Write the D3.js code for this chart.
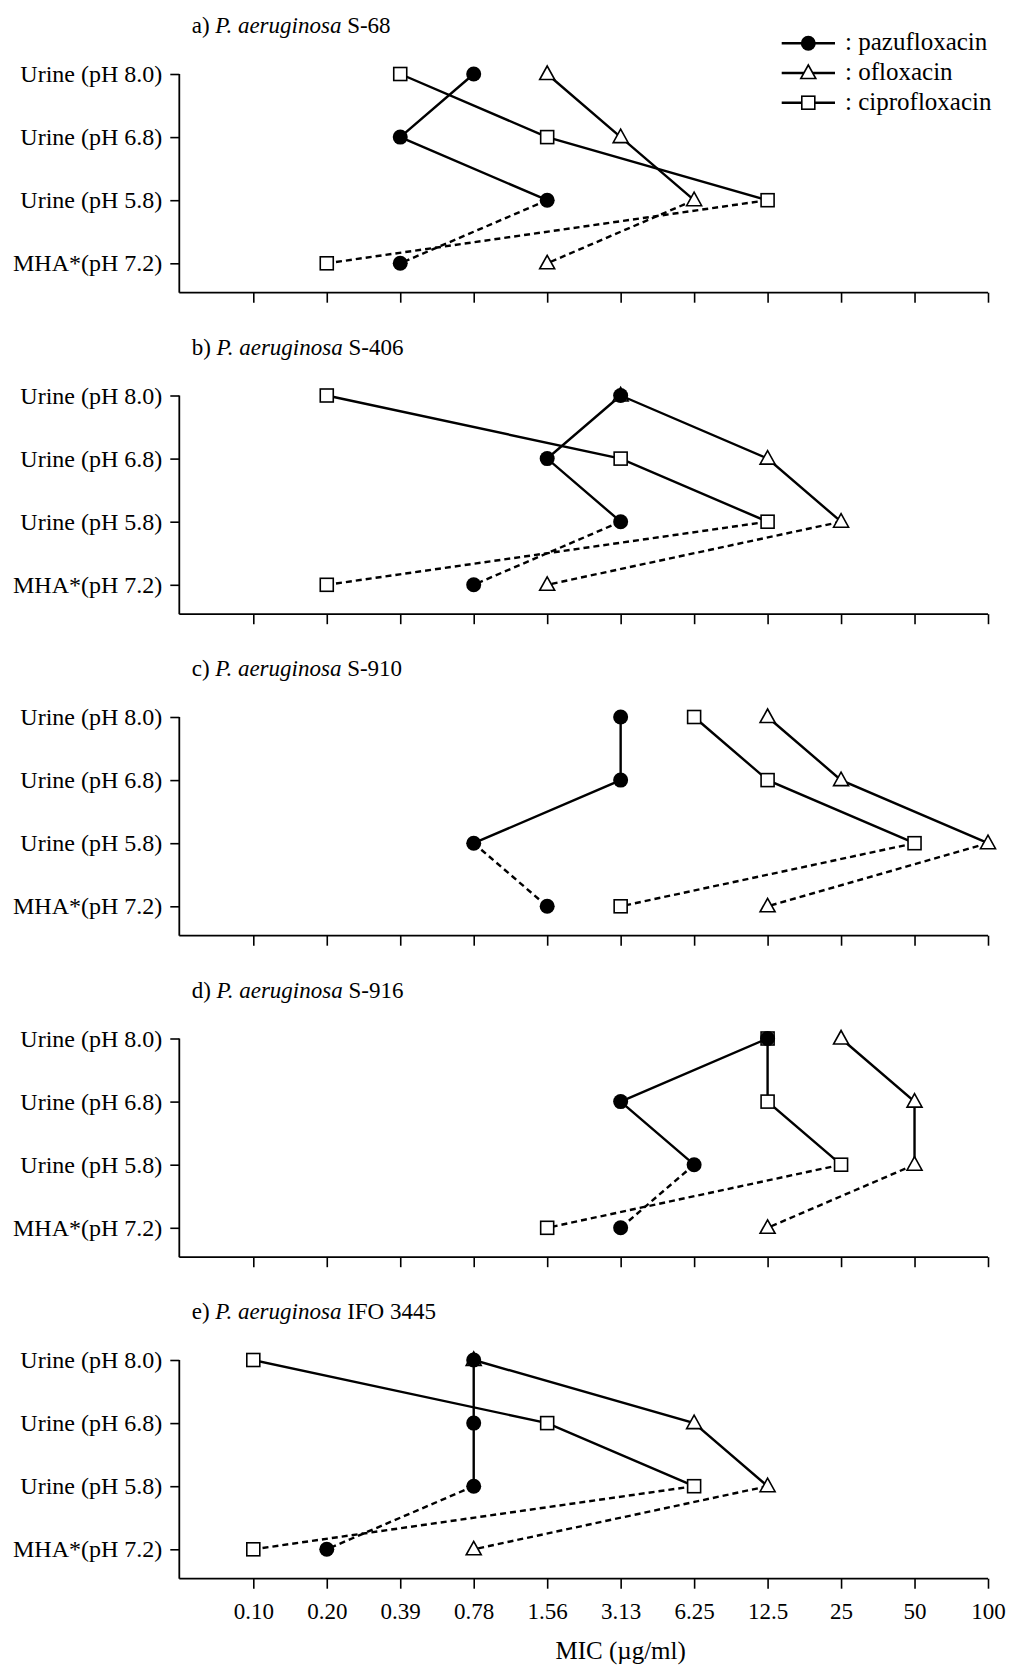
<!DOCTYPE html>
<html>
<head>
<meta charset="utf-8">
<script src="https://cdn.jsdelivr.net/npm/d3@7"></script>
<style>
  body { margin: 0; background: #fff; }
  text { font-family: "Liberation Serif", "Times New Roman", serif; fill: #000; }
</style>
</head>
<body>
<script>
/* ---------------------------------- data ---------------------------------- */
const categories = ["Urine (pH 8.0)", "Urine (pH 6.8)", "Urine (pH 5.8)", "MHA*(pH 7.2)"];
const micTicks = ["0.10", "0.20", "0.39", "0.78", "1.56", "3.13", "6.25", "12.5", "25", "50", "100"];
const panelLetters = ["a)", "b)", "c)", "d)", "e)"];
const strains = ["S-68", "S-406", "S-910", "S-916", "IFO 3445"];
const drugs = ["pazufloxacin", "ofloxacin", "ciprofloxacin"];

// one row per panel, values in order of categories
const pazufloxacin = [
  ["0.78", "0.39", "1.56", "0.39"],
  ["3.13", "1.56", "3.13", "0.78"],
  ["3.13", "3.13", "0.78", "1.56"],
  ["12.5", "3.13", "6.25", "3.13"],
  ["0.78", "0.78", "0.78", "0.20"]
];
const ofloxacin = [
  ["1.56", "3.13", "6.25", "1.56"],
  ["3.13", "12.5", "25", "1.56"],
  ["12.5", "25", "100", "12.5"],
  ["25", "50", "50", "12.5"],
  ["0.78", "6.25", "12.5", "0.78"]
];
const ciprofloxacin = [
  ["0.39", "1.56", "12.5", "0.20"],
  ["0.20", "3.13", "12.5", "0.20"],
  ["6.25", "12.5", "50", "3.13"],
  ["12.5", "12.5", "25", "1.56"],
  ["0.10", "1.56", "6.25", "0.10"]
];

/* ------------------------------ document size ----------------------------- */
const width = 1010, height = 1667;
const panelStep = 321.5;
const axisX = 179.3, axisY = 292.7;

const svg = d3.select("body").append("svg")
    .attr("width", width)
    .attr("height", height);

/* --------------------------------- scales --------------------------------- */
const x = d3.scalePoint().domain(micTicks).range([253.3, 988]);
const y = d3.scalePoint().domain(categories).range([74, 263.3]);

const seriesData = { pazufloxacin: pazufloxacin, ofloxacin: ofloxacin, ciprofloxacin: ciprofloxacin };

/* --------------------------------- markers -------------------------------- */
var drawMarker = function(g, drug, cx, cy) {
    if (drug == "pazufloxacin") {
        g.append("circle").attr("cx", cx).attr("cy", cy).attr("r", 7.5).attr("fill", "#000");
    } else if (drug == "ofloxacin") {
        g.append("path")
            .attr("d", "M" + cx + "," + (cy - 8) + "L" + (cx + 7.5) + "," + (cy + 5.5) + "L" + (cx - 7.5) + "," + (cy + 5.5) + "Z")
            .attr("fill", "#fff").attr("stroke", "#000").attr("stroke-width", 1.6);
    } else {
        g.append("rect").attr("x", cx - 6.5).attr("y", cy - 6.5).attr("width", 13).attr("height", 13)
            .attr("fill", "#fff").attr("stroke", "#000").attr("stroke-width", 1.6);
    }
}

const line = d3.line().x(d => x(d.v)).y(d => y(d.c));

/* --------------------------------- panels --------------------------------- */
for (var i = 0; i < strains.length; i++) {
    var g = svg.append("g").attr("transform", "translate(0," + (i * panelStep) + ")");

    // title
    var title = g.append("text").attr("x", 191.7).attr("y", 33).style("font-size", "23px");
    title.append("tspan").text(panelLetters[i] + " ");
    title.append("tspan").style("font-style", "italic").text("P. aeruginosa");
    title.append("tspan").text(" " + strains[i]);

    // y axis
    var yAxis = g.append("g").attr("transform", "translate(" + axisX + ",0)")
        .call(d3.axisLeft(y).tickSize(9).tickPadding(8));
    yAxis.select(".domain").remove();
    yAxis.selectAll("line").attr("stroke-width", 1.6);
    yAxis.selectAll("text").style("font-size", "24px").attr("font-family", null);
    g.append("line").attr("x1", axisX).attr("x2", axisX).attr("y1", y(categories[0])).attr("y2", axisY)
        .attr("stroke", "#000").attr("stroke-width", 1.8);

    // x axis
    var xAxis = g.append("g").attr("transform", "translate(0," + axisY + ")")
        .call(d3.axisBottom(x).tickSize(10).tickPadding(14)
            .tickFormat(i == strains.length - 1 ? (d => d) : ""));
    xAxis.select(".domain").remove();
    xAxis.selectAll("line").attr("stroke-width", 1.6);
    xAxis.selectAll("text").style("font-size", "23px").attr("font-family", null);
    g.append("line").attr("x1", axisX).attr("x2", x(micTicks[micTicks.length - 1])).attr("y1", axisY).attr("y2", axisY)
        .attr("stroke", "#000").attr("stroke-width", 1.8);

    // lines: solid through urine, dashed from pH 5.8 to MHA
    drugs.forEach(function(drug) {
        var pts = seriesData[drug][i].map((v, k) => ({ v: v, c: categories[k] }));
        g.append("path").attr("d", line(pts.slice(0, 3)))
            .attr("fill", "none").attr("stroke", "#000").attr("stroke-width", 2.4);
        g.append("path").attr("d", line(pts.slice(2)))
            .attr("fill", "none").attr("stroke", "#000").attr("stroke-width", 2.4)
            .attr("stroke-dasharray", "6,4");
    });

    // markers, pazufloxacin on top
    ["ciprofloxacin", "ofloxacin", "pazufloxacin"].forEach(function(drug) {
        seriesData[drug][i].forEach(function(v, k) {
            drawMarker(g, drug, x(v), y(categories[k]));
        });
    });
}

/* ------------------------------ x axis title ------------------------------ */
svg.append("text")
    .attr("x", (x(micTicks[0]) + x(micTicks[micTicks.length - 1])) / 2)
    .attr("y", 1659)
    .attr("text-anchor", "middle")
    .style("font-size", "25px")
    .text("MIC (\u00b5g/ml)");

/* --------------------------------- legend --------------------------------- */
const legend = svg.append("g");
drugs.forEach(function(drug, k) {
    var ly = 43.3 + k * 29.7;
    legend.append("line").attr("x1", 781.7).attr("x2", 835).attr("y1", ly).attr("y2", ly)
        .attr("stroke", "#000").attr("stroke-width", 2.4);
    drawMarker(legend, drug, 808.3, ly);
    legend.append("text").attr("x", 845).attr("y", ly + 7).style("font-size", "25px").text(": " + drug);
});
</script>
</body>
</html>
